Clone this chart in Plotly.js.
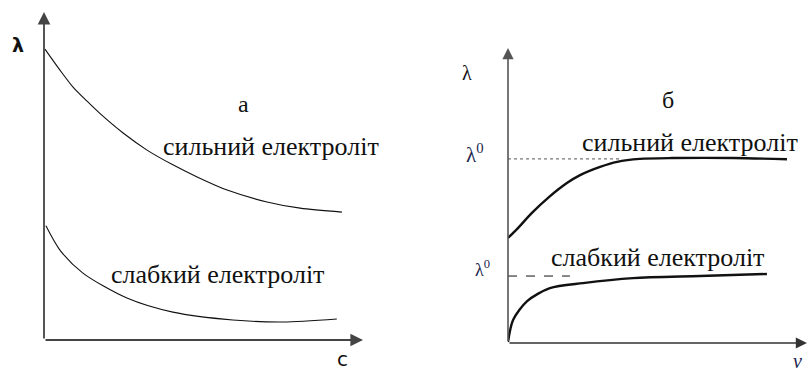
<!DOCTYPE html>
<html>
<head>
<meta charset="utf-8">
<script src="https://cdn.plot.ly/plotly-3.0.1.min.js"></script>
<style>
  html, body { margin: 0; padding: 0; background: #fff; }
  #plot { width: 807px; height: 371px; }
  #plot .annotation-text { font-family: "Liberation Serif", "Times New Roman", serif !important; }
  #plot .annotation-text.sans { font-family: "DejaVu Sans", sans-serif !important; }
</style>
</head>
<body>
<div id="plot"></div>
<script>
// --- panel а: conductivity vs concentration ---
const cStrong = [0.03, 0.50, 0.91, 1.35, 1.76, 2.48, 3.23, 4.04, 4.80, 5.74, 6.99, 8.03, 9.34];
const lamStrong = [8.87, 8.23, 7.71, 7.28, 6.90, 6.31, 5.79, 5.34, 4.97, 4.57, 4.21, 4.02, 3.90];
const cWeak = [0.06, 0.50, 1.22, 2.60, 4.04, 5.92, 7.49, 9.18];
const lamWeak = [3.48, 2.74, 2.04, 1.28, 0.85, 0.61, 0.55, 0.64];

// --- panel б: conductivity vs dilution ---
const nuStrong = [0, 0.30, 0.80, 1.34, 1.97, 2.41, 3.08, 3.65, 4.41, 5.50, 7.53, 9.33];
const lamNuStrong = [3.56, 3.86, 4.41, 4.92, 5.42, 5.69, 5.97, 6.14, 6.24, 6.27, 6.27, 6.23];
const nuWeak = [0, 0.17, 0.64, 1.40, 2.51, 4.18, 6.42, 8.66];
const lamNuWeak = [0.03, 0.78, 1.42, 1.86, 2.03, 2.20, 2.27, 2.34];

const lam0Strong = 6.24, lam0StrongEnd = 3.75;
const lam0Weak = 2.27, lam0WeakEnd = 2.07;

const labelStrong = "сильний електроліт";
const labelWeak = "слабкий електроліт";

const W = 807, H = 371;
const px = (x, y) => ({ x: x / W, y: 1 - y / H });

const SERIF = "Liberation Serif";
const SANS = "DejaVu Sans";
const INK = "#111";
const NAVY = "#1a1f4d";

const traces = [
  { x: cStrong, y: lamStrong, xaxis: "x", yaxis: "y", mode: "lines",
    line: { color: INK, width: 1.1, shape: "spline", smoothing: 0.8 } },
  { x: cWeak, y: lamWeak, xaxis: "x", yaxis: "y", mode: "lines",
    line: { color: INK, width: 1.1, shape: "spline", smoothing: 0.8 } },
  { x: [0, lam0StrongEnd], y: [lam0Strong, lam0Strong], xaxis: "x2", yaxis: "y2", mode: "lines",
    line: { color: "#555", width: 1, dash: "dot" } },
  { x: [0, lam0WeakEnd], y: [lam0Weak, lam0Weak], xaxis: "x2", yaxis: "y2", mode: "lines",
    line: { color: INK, width: 1, dash: "dash" } },
  { x: nuStrong, y: lamNuStrong, xaxis: "x2", yaxis: "y2", mode: "lines",
    line: { color: INK, width: 2.4, shape: "spline", smoothing: 0.8 } },
  { x: nuWeak, y: lamNuWeak, xaxis: "x2", yaxis: "y2", mode: "lines",
    line: { color: INK, width: 2.4, shape: "spline", smoothing: 0.8 } }
];

const hidden = { showgrid: false, zeroline: false, showticklabels: false, ticks: "", showline: false, fixedrange: true };

function arrow(xref, yref, x, y, ax, ay, color, width) {
  return { xref: xref, yref: yref, axref: xref, ayref: yref, x: x, y: y, ax: ax, ay: ay,
    showarrow: true, arrowhead: 2, arrowsize: 1.4, arrowwidth: width, arrowcolor: color, text: "" };
}

function label(x, y, text, size, family, color) {
  const p = px(x, y);
  return { xref: "paper", yref: "paper", x: p.x, y: p.y, text: text, showarrow: false,
    xanchor: "center", yanchor: "middle",
    font: { family: family || SERIF, size: size, color: color || INK } };
}

const layout = {
  width: W, height: H,
  margin: { l: 0, r: 0, t: 0, b: 0 },
  paper_bgcolor: "#fff", plot_bgcolor: "rgba(0,0,0,0)",
  showlegend: false,
  font: { family: SERIF, color: INK },
  xaxis: Object.assign({ domain: [44 / W, 363 / W], range: [0, 10], anchor: "y" }, hidden),
  yaxis: Object.assign({ domain: [1 - 340 / H, 1 - 12 / H], range: [0, 10], anchor: "x" }, hidden),
  xaxis2: Object.assign({ domain: [508 / W, 807 / W], range: [0, 10], anchor: "y2" }, hidden),
  yaxis2: Object.assign({ domain: [1 - 343 / H, 1 - 48 / H], range: [0, 10], anchor: "x2" }, hidden),
  annotations: [
    arrow("x", "y", 10, 0, 0, 0, "#444", 1.8),
    arrow("x", "y", 0, 10, 0, 0, "#444", 1.8),
    arrow("x2", "y2", 10, 0, 0, 0, "#333", 1.6),
    arrow("x2", "y2", 0, 10, 0, 0, "#555", 1.6),
    label(18, 45, "<b>λ</b>", 19, SANS),
    label(342, 359, "c", 20, SANS),
    label(243, 104, "а", 24),
    label(271, 146, labelStrong, 26),
    label(217, 274, labelWeak, 26),
    label(467, 73, "λ", 20),
    label(668, 100, "б", 24),
    label(690, 142, labelStrong, 26),
    label(657, 257, labelWeak, 26),
    label(475, 153, "λ<sup>0</sup>", 21, SERIF, NAVY),
    label(482, 268, "λ<sup>0</sup>", 18, SERIF, NAVY),
    label(797, 361, "<i>ν</i>", 20, SERIF, NAVY)
  ]
};

Plotly.newPlot("plot", traces, layout, { staticPlot: true }).then(gd => {
  // force the faces on the drawn texts; the two axis letters stay sans
  gd.querySelectorAll(".annotation-text").forEach(t => {
    const s = t.textContent.trim();
    if (s === "c" || (s === "λ" && t.querySelector("[style*='bold']"))) t.classList.add("sans");
    if (s === "c" || t.querySelector("tspan[style*='bold']")) t.classList.add("sans");
  });
});
</script>
</body>
</html>
